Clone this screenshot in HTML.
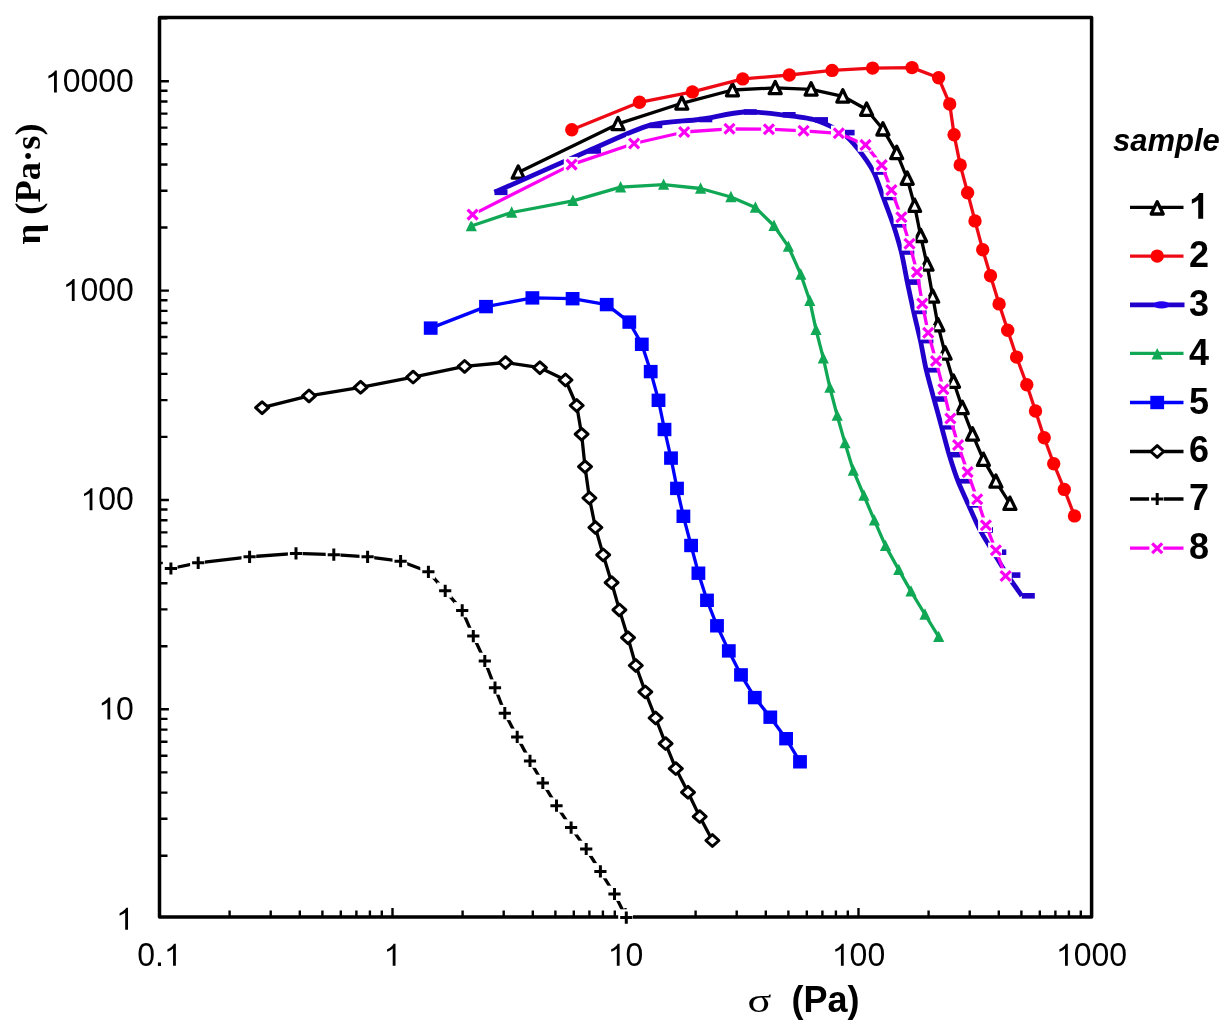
<!DOCTYPE html>
<html><head><meta charset="utf-8"><title>chart</title>
<style>
html,body{margin:0;padding:0;background:#fff}
body{width:1232px;height:1036px;position:relative;overflow:hidden;font-family:"Liberation Sans",sans-serif;color:#000}
</style></head><body>
<svg width="1232" height="1036" viewBox="0 0 1232 1036" style="position:absolute;left:0;top:0;will-change:transform" font-family="Liberation Sans, sans-serif" fill="#000">
<rect width="1232" height="1036" fill="#fff"/>
<path d="M159.5 855.7h8M159.5 818.8h8M159.5 792.6h8M159.5 772.4h8M159.5 755.8h8M159.5 741.8h8M159.5 729.6h8M159.5 718.9h8M159.5 709.3h9.4M159.5 646.3h8M159.5 609.4h8M159.5 583.3h8M159.5 563.0h8M159.5 546.4h8M159.5 532.4h8M159.5 520.2h8M159.5 509.5h8M159.5 500.0h9.4M159.5 436.9h8M159.5 400.1h8M159.5 373.9h8M159.5 353.6h8M159.5 337.0h8M159.5 323.0h8M159.5 310.9h8M159.5 300.2h8M159.5 290.6h9.4M159.5 227.5h8M159.5 190.7h8M159.5 164.5h8M159.5 144.2h8M159.5 127.6h8M159.5 113.6h8M159.5 101.5h8M159.5 90.8h8M159.5 81.2h9.4M159.5 18.2h8M159.5 917.1v-9.2M229.6 917.1v-6.6M270.7 917.1v-6.6M299.8 917.1v-6.6M322.4 917.1v-6.6M340.8 917.1v-6.6M356.4 917.1v-6.6M369.9 917.1v-6.6M381.8 917.1v-6.6M392.5 917.1v-9.2M462.6 917.1v-6.6M503.7 917.1v-6.6M532.8 917.1v-6.6M555.4 917.1v-6.6M573.8 917.1v-6.6M589.4 917.1v-6.6M602.9 917.1v-6.6M614.8 917.1v-6.6M625.5 917.1v-9.2M695.6 917.1v-6.6M736.7 917.1v-6.6M765.8 917.1v-6.6M788.4 917.1v-6.6M806.8 917.1v-6.6M822.4 917.1v-6.6M835.9 917.1v-6.6M847.8 917.1v-6.6M858.5 917.1v-9.2M928.6 917.1v-6.6M969.7 917.1v-6.6M998.8 917.1v-6.6M1021.4 917.1v-6.6M1039.8 917.1v-6.6M1055.4 917.1v-6.6M1068.9 917.1v-6.6M1080.8 917.1v-6.6M1091.5 917.1v-9.2" stroke="#000" stroke-width="2.4" fill="none"/>
<rect x="159.5" y="17.5" width="932.1" height="899.6" fill="none" stroke="#000" stroke-width="3.5" stroke-linejoin="round"/>
<path d="M518.2 172.4L618.0 123.9L681.8 103.3L732.5 90.0L775.2 87.9L811.1 89.3L842.8 96.3L866.6 109.5L882.9 129.2L896.7 152.8L907.2 178.5L914.6 205.6L920.6 235.7L927.0 264.4L932.7 296.4L937.9 325.0L945.1 353.3L953.5 381.5L962.3 407.8L972.5 434.3L983.4 459.6L995.9 481.4L1009.9 503.6" fill="none" stroke="#000" stroke-width="3.3" stroke-linejoin="round"/>
<path d="M518.2 165.9L524.2 178.2L512.2 178.2Z" fill="#fff" stroke="#000" stroke-width="3.3" stroke-linejoin="round"/>
<path d="M618.0 117.4L624.0 129.7L612.0 129.7Z" fill="#fff" stroke="#000" stroke-width="3.3" stroke-linejoin="round"/>
<path d="M681.8 96.8L687.8 109.1L675.8 109.1Z" fill="#fff" stroke="#000" stroke-width="3.3" stroke-linejoin="round"/>
<path d="M732.5 83.5L738.5 95.8L726.5 95.8Z" fill="#fff" stroke="#000" stroke-width="3.3" stroke-linejoin="round"/>
<path d="M775.2 81.4L781.2 93.7L769.2 93.7Z" fill="#fff" stroke="#000" stroke-width="3.3" stroke-linejoin="round"/>
<path d="M811.1 82.8L817.1 95.1L805.1 95.1Z" fill="#fff" stroke="#000" stroke-width="3.3" stroke-linejoin="round"/>
<path d="M842.8 89.8L848.8 102.1L836.8 102.1Z" fill="#fff" stroke="#000" stroke-width="3.3" stroke-linejoin="round"/>
<path d="M866.6 103.0L872.6 115.3L860.6 115.3Z" fill="#fff" stroke="#000" stroke-width="3.3" stroke-linejoin="round"/>
<path d="M882.9 122.7L888.9 135.0L876.9 135.0Z" fill="#fff" stroke="#000" stroke-width="3.3" stroke-linejoin="round"/>
<path d="M896.7 146.3L902.7 158.6L890.7 158.6Z" fill="#fff" stroke="#000" stroke-width="3.3" stroke-linejoin="round"/>
<path d="M907.2 172.0L913.2 184.3L901.2 184.3Z" fill="#fff" stroke="#000" stroke-width="3.3" stroke-linejoin="round"/>
<path d="M914.6 199.1L920.6 211.4L908.6 211.4Z" fill="#fff" stroke="#000" stroke-width="3.3" stroke-linejoin="round"/>
<path d="M920.6 229.2L926.6 241.5L914.6 241.5Z" fill="#fff" stroke="#000" stroke-width="3.3" stroke-linejoin="round"/>
<path d="M927.0 257.9L933.0 270.2L921.0 270.2Z" fill="#fff" stroke="#000" stroke-width="3.3" stroke-linejoin="round"/>
<path d="M932.7 289.9L938.7 302.2L926.7 302.2Z" fill="#fff" stroke="#000" stroke-width="3.3" stroke-linejoin="round"/>
<path d="M937.9 318.5L943.9 330.8L931.9 330.8Z" fill="#fff" stroke="#000" stroke-width="3.3" stroke-linejoin="round"/>
<path d="M945.1 346.8L951.1 359.1L939.1 359.1Z" fill="#fff" stroke="#000" stroke-width="3.3" stroke-linejoin="round"/>
<path d="M953.5 375.0L959.5 387.3L947.5 387.3Z" fill="#fff" stroke="#000" stroke-width="3.3" stroke-linejoin="round"/>
<path d="M962.3 401.3L968.3 413.6L956.3 413.6Z" fill="#fff" stroke="#000" stroke-width="3.3" stroke-linejoin="round"/>
<path d="M972.5 427.8L978.5 440.1L966.5 440.1Z" fill="#fff" stroke="#000" stroke-width="3.3" stroke-linejoin="round"/>
<path d="M983.4 453.1L989.4 465.4L977.4 465.4Z" fill="#fff" stroke="#000" stroke-width="3.3" stroke-linejoin="round"/>
<path d="M995.9 474.9L1001.9 487.2L989.9 487.2Z" fill="#fff" stroke="#000" stroke-width="3.3" stroke-linejoin="round"/>
<path d="M1009.9 497.1L1015.9 509.4L1003.9 509.4Z" fill="#fff" stroke="#000" stroke-width="3.3" stroke-linejoin="round"/>
<path d="M571.8 129.7L639.5 102.3L692.4 91.9L742.7 78.9L789.3 75.0L832.1 70.4L872.6 68.1L912.0 67.6L938.6 77.8L949.7 104.0L954.1 134.8L960.2 164.9L967.6 192.7L975.0 220.9L982.7 249.8L990.5 275.8L999.1 303.9L1007.7 330.2L1016.6 357.1L1026.8 384.7L1035.5 411.0L1044.2 437.7L1053.7 463.7L1064.3 489.4L1074.5 515.9" fill="none" stroke="#ee0a14" stroke-width="3.3" stroke-linejoin="round"/>
<circle cx="571.8" cy="129.7" r="6.7" fill="#ff0000"/>
<circle cx="639.5" cy="102.3" r="6.7" fill="#ff0000"/>
<circle cx="692.4" cy="91.9" r="6.7" fill="#ff0000"/>
<circle cx="742.7" cy="78.9" r="6.7" fill="#ff0000"/>
<circle cx="789.3" cy="75.0" r="6.7" fill="#ff0000"/>
<circle cx="832.1" cy="70.4" r="6.7" fill="#ff0000"/>
<circle cx="872.6" cy="68.1" r="6.7" fill="#ff0000"/>
<circle cx="912.0" cy="67.6" r="6.7" fill="#ff0000"/>
<circle cx="938.6" cy="77.8" r="6.7" fill="#ff0000"/>
<circle cx="949.7" cy="104.0" r="6.7" fill="#ff0000"/>
<circle cx="954.1" cy="134.8" r="6.7" fill="#ff0000"/>
<circle cx="960.2" cy="164.9" r="6.7" fill="#ff0000"/>
<circle cx="967.6" cy="192.7" r="6.7" fill="#ff0000"/>
<circle cx="975.0" cy="220.9" r="6.7" fill="#ff0000"/>
<circle cx="982.7" cy="249.8" r="6.7" fill="#ff0000"/>
<circle cx="990.5" cy="275.8" r="6.7" fill="#ff0000"/>
<circle cx="999.1" cy="303.9" r="6.7" fill="#ff0000"/>
<circle cx="1007.7" cy="330.2" r="6.7" fill="#ff0000"/>
<circle cx="1016.6" cy="357.1" r="6.7" fill="#ff0000"/>
<circle cx="1026.8" cy="384.7" r="6.7" fill="#ff0000"/>
<circle cx="1035.5" cy="411.0" r="6.7" fill="#ff0000"/>
<circle cx="1044.2" cy="437.7" r="6.7" fill="#ff0000"/>
<circle cx="1053.7" cy="463.7" r="6.7" fill="#ff0000"/>
<circle cx="1064.3" cy="489.4" r="6.7" fill="#ff0000"/>
<circle cx="1074.5" cy="515.9" r="6.7" fill="#ff0000"/>
<path d="M494.5 192.3C507.0 186.8 567.4 159.9 588.0 151.0C608.6 142.1 634.5 129.6 649.3 125.4C664.1 121.2 686.7 121.3 699.3 119.5C711.9 117.7 732.7 112.6 743.8 112.0C754.9 111.4 773.1 113.7 782.6 114.8C792.1 115.9 807.1 117.5 815.0 119.9C822.9 122.3 835.9 128.7 841.6 132.6C847.3 136.5 853.5 143.5 857.8 148.8C862.1 154.1 870.2 165.5 873.6 172.0C877.0 178.5 880.7 190.5 883.3 197.5C885.9 204.5 890.9 217.5 893.3 224.8C895.7 232.1 899.4 244.4 901.3 252.0C903.2 259.6 905.7 274.2 907.3 282.1C908.9 290.0 911.9 303.6 913.6 311.4C915.3 319.2 918.7 332.8 920.4 340.6C922.1 348.4 924.4 362.0 926.2 369.8C928.0 377.6 931.9 391.4 934.0 399.0C936.1 406.6 939.6 419.4 941.6 426.8C943.6 434.2 947.0 447.5 949.2 454.7C951.4 461.9 955.3 474.1 957.9 480.8C960.5 487.5 965.6 498.3 968.5 504.9C971.4 511.5 976.7 523.7 980.0 530.0C983.3 536.3 989.6 546.2 993.3 552.2C997.0 558.2 1003.6 569.3 1007.4 575.1C1011.2 580.9 1019.9 593.0 1021.8 595.8" fill="none" stroke="#2200cc" stroke-width="4.8" stroke-linejoin="round"/>
<rect x="494.5" y="189.5" width="13" height="5.6" fill="#2200cc"/>
<rect x="588.0" y="148.2" width="13" height="5.6" fill="#2200cc"/>
<rect x="649.3" y="122.6" width="13" height="5.6" fill="#2200cc"/>
<rect x="699.3" y="116.7" width="13" height="5.6" fill="#2200cc"/>
<rect x="743.8" y="109.2" width="13" height="5.6" fill="#2200cc"/>
<rect x="782.6" y="112.0" width="13" height="5.6" fill="#2200cc"/>
<rect x="815.0" y="117.1" width="13" height="5.6" fill="#2200cc"/>
<rect x="841.6" y="129.8" width="13" height="5.6" fill="#2200cc"/>
<rect x="857.8" y="146.0" width="13" height="5.6" fill="#2200cc"/>
<rect x="873.6" y="169.2" width="13" height="5.6" fill="#2200cc"/>
<rect x="883.3" y="194.7" width="13" height="5.6" fill="#2200cc"/>
<rect x="893.3" y="222.0" width="13" height="5.6" fill="#2200cc"/>
<rect x="901.3" y="249.2" width="13" height="5.6" fill="#2200cc"/>
<rect x="907.3" y="279.3" width="13" height="5.6" fill="#2200cc"/>
<rect x="913.6" y="308.6" width="13" height="5.6" fill="#2200cc"/>
<rect x="920.4" y="337.8" width="13" height="5.6" fill="#2200cc"/>
<rect x="926.2" y="367.0" width="13" height="5.6" fill="#2200cc"/>
<rect x="934.0" y="396.2" width="13" height="5.6" fill="#2200cc"/>
<rect x="941.6" y="424.0" width="13" height="5.6" fill="#2200cc"/>
<rect x="949.2" y="451.9" width="13" height="5.6" fill="#2200cc"/>
<rect x="957.9" y="478.0" width="13" height="5.6" fill="#2200cc"/>
<rect x="968.5" y="502.1" width="13" height="5.6" fill="#2200cc"/>
<rect x="980.0" y="527.2" width="13" height="5.6" fill="#2200cc"/>
<rect x="993.3" y="549.4" width="13" height="5.6" fill="#2200cc"/>
<rect x="1007.4" y="572.3" width="13" height="5.6" fill="#2200cc"/>
<rect x="1021.8" y="593.0" width="13" height="5.6" fill="#2200cc"/>
<path d="M471.3 226.0L511.7 212.5L572.9 200.8L620.6 187.2L663.6 184.6L700.6 188.5L730.9 197.0L755.4 207.5L774.0 225.8L788.4 246.6L800.8 274.5L809.8 300.7L816.0 329.7L823.3 358.2L829.9 387.6L837.2 415.6L845.0 443.1L853.3 470.5L863.9 495.5L874.4 520.4L885.5 545.9L898.8 569.9L911.0 591.4L925.0 614.5L938.7 636.9" fill="none" stroke="#10a855" stroke-width="3.3" stroke-linejoin="round"/>
<path d="M471.3 219.8L476.9 231.2L465.7 231.2Z" fill="#10a855"/>
<path d="M511.7 206.3L517.3 217.7L506.1 217.7Z" fill="#10a855"/>
<path d="M572.9 194.6L578.5 206.0L567.3 206.0Z" fill="#10a855"/>
<path d="M620.6 181.0L626.2 192.4L615.0 192.4Z" fill="#10a855"/>
<path d="M663.6 178.4L669.2 189.8L658.0 189.8Z" fill="#10a855"/>
<path d="M700.6 182.3L706.2 193.7L695.0 193.7Z" fill="#10a855"/>
<path d="M730.9 190.8L736.5 202.2L725.3 202.2Z" fill="#10a855"/>
<path d="M755.4 201.3L761.0 212.7L749.8 212.7Z" fill="#10a855"/>
<path d="M774.0 219.6L779.6 231.0L768.4 231.0Z" fill="#10a855"/>
<path d="M788.4 240.4L794.0 251.8L782.8 251.8Z" fill="#10a855"/>
<path d="M800.8 268.3L806.4 279.7L795.2 279.7Z" fill="#10a855"/>
<path d="M809.8 294.5L815.4 305.9L804.2 305.9Z" fill="#10a855"/>
<path d="M816.0 323.5L821.6 334.9L810.4 334.9Z" fill="#10a855"/>
<path d="M823.3 352.0L828.9 363.4L817.7 363.4Z" fill="#10a855"/>
<path d="M829.9 381.4L835.5 392.8L824.3 392.8Z" fill="#10a855"/>
<path d="M837.2 409.4L842.8 420.8L831.6 420.8Z" fill="#10a855"/>
<path d="M845.0 436.9L850.6 448.3L839.4 448.3Z" fill="#10a855"/>
<path d="M853.3 464.3L858.9 475.7L847.7 475.7Z" fill="#10a855"/>
<path d="M863.9 489.3L869.5 500.7L858.3 500.7Z" fill="#10a855"/>
<path d="M874.4 514.2L880.0 525.6L868.8 525.6Z" fill="#10a855"/>
<path d="M885.5 539.7L891.1 551.1L879.9 551.1Z" fill="#10a855"/>
<path d="M898.8 563.7L904.4 575.1L893.2 575.1Z" fill="#10a855"/>
<path d="M911.0 585.2L916.6 596.6L905.4 596.6Z" fill="#10a855"/>
<path d="M925.0 608.3L930.6 619.7L919.4 619.7Z" fill="#10a855"/>
<path d="M938.7 630.7L944.3 642.1L933.1 642.1Z" fill="#10a855"/>
<path d="M430.7 328.1L486.0 306.6L532.4 297.9L572.6 298.7L606.7 304.6L629.3 322.1L641.8 344.3L650.7 371.6L658.5 400.3L664.5 429.5L671.0 458.1L677.0 488.4L683.4 516.3L691.1 545.5L698.4 573.2L707.0 600.3L717.0 625.8L728.8 650.9L741.0 674.9L754.8 697.6L770.3 717.2L786.1 738.7L800.0 761.8" fill="none" stroke="#0000ff" stroke-width="3.3" stroke-linejoin="round"/>
<rect x="423.8" y="321.4" width="13.8" height="13.4" fill="#0000ff"/>
<rect x="479.1" y="299.9" width="13.8" height="13.4" fill="#0000ff"/>
<rect x="525.5" y="291.2" width="13.8" height="13.4" fill="#0000ff"/>
<rect x="565.7" y="292.0" width="13.8" height="13.4" fill="#0000ff"/>
<rect x="599.8" y="297.9" width="13.8" height="13.4" fill="#0000ff"/>
<rect x="622.4" y="315.4" width="13.8" height="13.4" fill="#0000ff"/>
<rect x="634.9" y="337.6" width="13.8" height="13.4" fill="#0000ff"/>
<rect x="643.8" y="364.9" width="13.8" height="13.4" fill="#0000ff"/>
<rect x="651.6" y="393.6" width="13.8" height="13.4" fill="#0000ff"/>
<rect x="657.6" y="422.8" width="13.8" height="13.4" fill="#0000ff"/>
<rect x="664.1" y="451.4" width="13.8" height="13.4" fill="#0000ff"/>
<rect x="670.1" y="481.7" width="13.8" height="13.4" fill="#0000ff"/>
<rect x="676.5" y="509.6" width="13.8" height="13.4" fill="#0000ff"/>
<rect x="684.2" y="538.8" width="13.8" height="13.4" fill="#0000ff"/>
<rect x="691.5" y="566.5" width="13.8" height="13.4" fill="#0000ff"/>
<rect x="700.1" y="593.6" width="13.8" height="13.4" fill="#0000ff"/>
<rect x="710.1" y="619.1" width="13.8" height="13.4" fill="#0000ff"/>
<rect x="721.9" y="644.2" width="13.8" height="13.4" fill="#0000ff"/>
<rect x="734.1" y="668.2" width="13.8" height="13.4" fill="#0000ff"/>
<rect x="747.9" y="690.9" width="13.8" height="13.4" fill="#0000ff"/>
<rect x="763.4" y="710.5" width="13.8" height="13.4" fill="#0000ff"/>
<rect x="779.2" y="732.0" width="13.8" height="13.4" fill="#0000ff"/>
<rect x="793.1" y="755.1" width="13.8" height="13.4" fill="#0000ff"/>
<path d="M262.1 407.7L309.0 395.9L360.6 387.3L413.1 377.1L464.6 366.4L505.5 362.5L539.9 367.7L565.5 380.0L576.7 405.5L581.6 434.2L585.0 466.7L589.4 498.0L595.4 527.5L603.2 554.9L611.6 582.6L619.4 609.9L628.0 637.7L635.8 665.5L645.3 691.9L655.6 718.0L665.6 743.6L675.8 768.6L688.0 792.3L699.7 816.6L712.4 840.5" fill="none" stroke="#000" stroke-width="3.3" stroke-linejoin="round"/>
<path d="M262.1 401.8L268.6 407.7L262.1 413.6L255.6 407.7Z" fill="#fff" stroke="#000" stroke-width="3" stroke-linejoin="round"/>
<path d="M309.0 390.0L315.5 395.9L309.0 401.8L302.5 395.9Z" fill="#fff" stroke="#000" stroke-width="3" stroke-linejoin="round"/>
<path d="M360.6 381.4L367.1 387.3L360.6 393.2L354.1 387.3Z" fill="#fff" stroke="#000" stroke-width="3" stroke-linejoin="round"/>
<path d="M413.1 371.2L419.6 377.1L413.1 383.0L406.6 377.1Z" fill="#fff" stroke="#000" stroke-width="3" stroke-linejoin="round"/>
<path d="M464.6 360.5L471.1 366.4L464.6 372.3L458.1 366.4Z" fill="#fff" stroke="#000" stroke-width="3" stroke-linejoin="round"/>
<path d="M505.5 356.6L512.0 362.5L505.5 368.4L499.0 362.5Z" fill="#fff" stroke="#000" stroke-width="3" stroke-linejoin="round"/>
<path d="M539.9 361.8L546.4 367.7L539.9 373.6L533.4 367.7Z" fill="#fff" stroke="#000" stroke-width="3" stroke-linejoin="round"/>
<path d="M565.5 374.1L572.0 380.0L565.5 385.9L559.0 380.0Z" fill="#fff" stroke="#000" stroke-width="3" stroke-linejoin="round"/>
<path d="M576.7 399.6L583.2 405.5L576.7 411.4L570.2 405.5Z" fill="#fff" stroke="#000" stroke-width="3" stroke-linejoin="round"/>
<path d="M581.6 428.3L588.1 434.2L581.6 440.1L575.1 434.2Z" fill="#fff" stroke="#000" stroke-width="3" stroke-linejoin="round"/>
<path d="M585.0 460.8L591.5 466.7L585.0 472.6L578.5 466.7Z" fill="#fff" stroke="#000" stroke-width="3" stroke-linejoin="round"/>
<path d="M589.4 492.1L595.9 498.0L589.4 503.9L582.9 498.0Z" fill="#fff" stroke="#000" stroke-width="3" stroke-linejoin="round"/>
<path d="M595.4 521.6L601.9 527.5L595.4 533.4L588.9 527.5Z" fill="#fff" stroke="#000" stroke-width="3" stroke-linejoin="round"/>
<path d="M603.2 549.0L609.7 554.9L603.2 560.8L596.7 554.9Z" fill="#fff" stroke="#000" stroke-width="3" stroke-linejoin="round"/>
<path d="M611.6 576.7L618.1 582.6L611.6 588.5L605.1 582.6Z" fill="#fff" stroke="#000" stroke-width="3" stroke-linejoin="round"/>
<path d="M619.4 604.0L625.9 609.9L619.4 615.8L612.9 609.9Z" fill="#fff" stroke="#000" stroke-width="3" stroke-linejoin="round"/>
<path d="M628.0 631.8L634.5 637.7L628.0 643.6L621.5 637.7Z" fill="#fff" stroke="#000" stroke-width="3" stroke-linejoin="round"/>
<path d="M635.8 659.6L642.3 665.5L635.8 671.4L629.3 665.5Z" fill="#fff" stroke="#000" stroke-width="3" stroke-linejoin="round"/>
<path d="M645.3 686.0L651.8 691.9L645.3 697.8L638.8 691.9Z" fill="#fff" stroke="#000" stroke-width="3" stroke-linejoin="round"/>
<path d="M655.6 712.1L662.1 718.0L655.6 723.9L649.1 718.0Z" fill="#fff" stroke="#000" stroke-width="3" stroke-linejoin="round"/>
<path d="M665.6 737.7L672.1 743.6L665.6 749.5L659.1 743.6Z" fill="#fff" stroke="#000" stroke-width="3" stroke-linejoin="round"/>
<path d="M675.8 762.7L682.3 768.6L675.8 774.5L669.3 768.6Z" fill="#fff" stroke="#000" stroke-width="3" stroke-linejoin="round"/>
<path d="M688.0 786.4L694.5 792.3L688.0 798.2L681.5 792.3Z" fill="#fff" stroke="#000" stroke-width="3" stroke-linejoin="round"/>
<path d="M699.7 810.7L706.2 816.6L699.7 822.5L693.2 816.6Z" fill="#fff" stroke="#000" stroke-width="3" stroke-linejoin="round"/>
<path d="M712.4 834.6L718.9 840.5L712.4 846.4L705.9 840.5Z" fill="#fff" stroke="#000" stroke-width="3" stroke-linejoin="round"/>
<path d="M170.9 568.5L198.2 562.8L249.6 556.8L296.0 553.4L333.8 554.7L367.6 556.8L400.6 561.2L428.4 571.8L445.2 590.8L462.2 610.4L473.3 636.1L484.8 661.0L495.0 687.7L504.8 713.2L517.2 736.9L530.0 760.9L542.8 783.0L556.5 805.7L571.1 827.6L586.2 849.0L600.4 871.4L614.5 894.0L626.3 917.6" fill="none" stroke="#000" stroke-width="3.3" stroke-linejoin="round"/>
<rect x="162.8" y="560.2" width="14.7" height="15.2" fill="#fff"/><path d="M164.8 568.5H177.0M170.9 562.4V574.6" stroke="#000" stroke-width="3" fill="none"/>
<rect x="190.1" y="554.5" width="14.7" height="15.2" fill="#fff"/><path d="M192.1 562.8H204.3M198.2 556.7V568.9" stroke="#000" stroke-width="3" fill="none"/>
<rect x="241.5" y="548.5" width="14.7" height="15.2" fill="#fff"/><path d="M243.5 556.8H255.7M249.6 550.7V562.9" stroke="#000" stroke-width="3" fill="none"/>
<rect x="287.9" y="545.1" width="14.7" height="15.2" fill="#fff"/><path d="M289.9 553.4H302.1M296.0 547.3V559.5" stroke="#000" stroke-width="3" fill="none"/>
<rect x="325.7" y="546.4" width="14.7" height="15.2" fill="#fff"/><path d="M327.7 554.7H339.9M333.8 548.6V560.8" stroke="#000" stroke-width="3" fill="none"/>
<rect x="359.5" y="548.5" width="14.7" height="15.2" fill="#fff"/><path d="M361.5 556.8H373.7M367.6 550.7V562.9" stroke="#000" stroke-width="3" fill="none"/>
<rect x="392.5" y="552.9" width="14.7" height="15.2" fill="#fff"/><path d="M394.5 561.2H406.7M400.6 555.1V567.3" stroke="#000" stroke-width="3" fill="none"/>
<rect x="420.3" y="563.5" width="14.7" height="15.2" fill="#fff"/><path d="M422.3 571.8H434.5M428.4 565.7V577.9" stroke="#000" stroke-width="3" fill="none"/>
<rect x="437.1" y="582.5" width="14.7" height="15.2" fill="#fff"/><path d="M439.1 590.8H451.3M445.2 584.7V596.9" stroke="#000" stroke-width="3" fill="none"/>
<rect x="454.1" y="602.1" width="14.7" height="15.2" fill="#fff"/><path d="M456.1 610.4H468.3M462.2 604.3V616.5" stroke="#000" stroke-width="3" fill="none"/>
<rect x="465.2" y="627.8" width="14.7" height="15.2" fill="#fff"/><path d="M467.2 636.1H479.4M473.3 630.0V642.2" stroke="#000" stroke-width="3" fill="none"/>
<rect x="476.7" y="652.7" width="14.7" height="15.2" fill="#fff"/><path d="M478.7 661.0H490.9M484.8 654.9V667.1" stroke="#000" stroke-width="3" fill="none"/>
<rect x="486.9" y="679.4" width="14.7" height="15.2" fill="#fff"/><path d="M488.9 687.7H501.1M495.0 681.6V693.8" stroke="#000" stroke-width="3" fill="none"/>
<rect x="496.7" y="704.9" width="14.7" height="15.2" fill="#fff"/><path d="M498.7 713.2H510.9M504.8 707.1V719.3" stroke="#000" stroke-width="3" fill="none"/>
<rect x="509.1" y="728.6" width="14.7" height="15.2" fill="#fff"/><path d="M511.1 736.9H523.3M517.2 730.8V743.0" stroke="#000" stroke-width="3" fill="none"/>
<rect x="521.9" y="752.6" width="14.7" height="15.2" fill="#fff"/><path d="M523.9 760.9H536.1M530.0 754.8V767.0" stroke="#000" stroke-width="3" fill="none"/>
<rect x="534.7" y="774.7" width="14.7" height="15.2" fill="#fff"/><path d="M536.7 783.0H548.9M542.8 776.9V789.1" stroke="#000" stroke-width="3" fill="none"/>
<rect x="548.4" y="797.4" width="14.7" height="15.2" fill="#fff"/><path d="M550.4 805.7H562.6M556.5 799.6V811.8" stroke="#000" stroke-width="3" fill="none"/>
<rect x="563.0" y="819.3" width="14.7" height="15.2" fill="#fff"/><path d="M565.0 827.6H577.2M571.1 821.5V833.7" stroke="#000" stroke-width="3" fill="none"/>
<rect x="578.1" y="840.7" width="14.7" height="15.2" fill="#fff"/><path d="M580.1 849.0H592.3M586.2 842.9V855.1" stroke="#000" stroke-width="3" fill="none"/>
<rect x="592.3" y="863.1" width="14.7" height="15.2" fill="#fff"/><path d="M594.3 871.4H606.5M600.4 865.3V877.5" stroke="#000" stroke-width="3" fill="none"/>
<rect x="606.4" y="885.7" width="14.7" height="15.2" fill="#fff"/><path d="M608.4 894.0H620.6M614.5 887.9V900.1" stroke="#000" stroke-width="3" fill="none"/>
<rect x="618.2" y="909.3" width="14.7" height="15.2" fill="#fff"/><path d="M620.2 917.6H632.4M626.3 911.5V923.7" stroke="#000" stroke-width="3" fill="none"/>
<path d="M472.6 214.6L571.6 164.6L634.1 143.5L684.2 132.0L729.5 128.8L768.9 129.2L803.6 130.8L838.8 133.3L865.5 144.9L881.7 165.1L891.4 190.1L901.4 217.2L909.5 243.8L917.0 272.1L922.3 303.6L928.2 332.8L936.0 361.0L943.4 389.3L950.4 418.5L958.1 445.0L967.6 472.1L977.2 499.2L985.9 525.2L995.9 550.3L1005.6 576.0" fill="none" stroke="#fa00f4" stroke-width="3.3" stroke-linejoin="round"/>
<rect x="464.8" y="206.9" width="13.9" height="14.5" fill="#fff"/><path d="M467.6 209.7L477.6 219.5M467.6 219.5L477.6 209.7" stroke="#fa00f4" stroke-width="3.2" fill="none"/>
<rect x="563.8" y="156.9" width="13.9" height="14.5" fill="#fff"/><path d="M566.6 159.7L576.6 169.5M566.6 169.5L576.6 159.7" stroke="#fa00f4" stroke-width="3.2" fill="none"/>
<rect x="626.3" y="135.8" width="13.9" height="14.5" fill="#fff"/><path d="M629.1 138.6L639.1 148.4M629.1 148.4L639.1 138.6" stroke="#fa00f4" stroke-width="3.2" fill="none"/>
<rect x="676.4" y="124.3" width="13.9" height="14.5" fill="#fff"/><path d="M679.2 127.1L689.2 136.9M679.2 136.9L689.2 127.1" stroke="#fa00f4" stroke-width="3.2" fill="none"/>
<rect x="721.7" y="121.1" width="13.9" height="14.5" fill="#fff"/><path d="M724.5 123.9L734.5 133.7M724.5 133.7L734.5 123.9" stroke="#fa00f4" stroke-width="3.2" fill="none"/>
<rect x="761.1" y="121.5" width="13.9" height="14.5" fill="#fff"/><path d="M763.9 124.3L773.9 134.1M763.9 134.1L773.9 124.3" stroke="#fa00f4" stroke-width="3.2" fill="none"/>
<rect x="795.8" y="123.1" width="13.9" height="14.5" fill="#fff"/><path d="M798.6 125.9L808.6 135.7M798.6 135.7L808.6 125.9" stroke="#fa00f4" stroke-width="3.2" fill="none"/>
<rect x="831.0" y="125.6" width="13.9" height="14.5" fill="#fff"/><path d="M833.8 128.4L843.8 138.2M833.8 138.2L843.8 128.4" stroke="#fa00f4" stroke-width="3.2" fill="none"/>
<rect x="857.7" y="137.2" width="13.9" height="14.5" fill="#fff"/><path d="M860.5 140.0L870.5 149.8M860.5 149.8L870.5 140.0" stroke="#fa00f4" stroke-width="3.2" fill="none"/>
<rect x="873.9" y="157.4" width="13.9" height="14.5" fill="#fff"/><path d="M876.7 160.2L886.7 170.0M876.7 170.0L886.7 160.2" stroke="#fa00f4" stroke-width="3.2" fill="none"/>
<rect x="883.6" y="182.4" width="13.9" height="14.5" fill="#fff"/><path d="M886.4 185.2L896.4 195.0M886.4 195.0L896.4 185.2" stroke="#fa00f4" stroke-width="3.2" fill="none"/>
<rect x="893.6" y="209.5" width="13.9" height="14.5" fill="#fff"/><path d="M896.4 212.3L906.4 222.1M896.4 222.1L906.4 212.3" stroke="#fa00f4" stroke-width="3.2" fill="none"/>
<rect x="901.7" y="236.1" width="13.9" height="14.5" fill="#fff"/><path d="M904.5 238.9L914.5 248.7M904.5 248.7L914.5 238.9" stroke="#fa00f4" stroke-width="3.2" fill="none"/>
<rect x="909.2" y="264.4" width="13.9" height="14.5" fill="#fff"/><path d="M912.0 267.2L922.0 277.0M912.0 277.0L922.0 267.2" stroke="#fa00f4" stroke-width="3.2" fill="none"/>
<rect x="914.5" y="295.9" width="13.9" height="14.5" fill="#fff"/><path d="M917.3 298.7L927.3 308.5M917.3 308.5L927.3 298.7" stroke="#fa00f4" stroke-width="3.2" fill="none"/>
<rect x="920.4" y="325.1" width="13.9" height="14.5" fill="#fff"/><path d="M923.2 327.9L933.2 337.7M923.2 337.7L933.2 327.9" stroke="#fa00f4" stroke-width="3.2" fill="none"/>
<rect x="928.2" y="353.3" width="13.9" height="14.5" fill="#fff"/><path d="M931.0 356.1L941.0 365.9M931.0 365.9L941.0 356.1" stroke="#fa00f4" stroke-width="3.2" fill="none"/>
<rect x="935.6" y="381.6" width="13.9" height="14.5" fill="#fff"/><path d="M938.4 384.4L948.4 394.2M938.4 394.2L948.4 384.4" stroke="#fa00f4" stroke-width="3.2" fill="none"/>
<rect x="942.6" y="410.8" width="13.9" height="14.5" fill="#fff"/><path d="M945.4 413.6L955.4 423.4M945.4 423.4L955.4 413.6" stroke="#fa00f4" stroke-width="3.2" fill="none"/>
<rect x="950.3" y="437.3" width="13.9" height="14.5" fill="#fff"/><path d="M953.1 440.1L963.1 449.9M953.1 449.9L963.1 440.1" stroke="#fa00f4" stroke-width="3.2" fill="none"/>
<rect x="959.8" y="464.4" width="13.9" height="14.5" fill="#fff"/><path d="M962.6 467.2L972.6 477.0M962.6 477.0L972.6 467.2" stroke="#fa00f4" stroke-width="3.2" fill="none"/>
<rect x="969.4" y="491.5" width="13.9" height="14.5" fill="#fff"/><path d="M972.2 494.3L982.2 504.1M972.2 504.1L982.2 494.3" stroke="#fa00f4" stroke-width="3.2" fill="none"/>
<rect x="978.1" y="517.5" width="13.9" height="14.5" fill="#fff"/><path d="M980.9 520.3L990.9 530.1M980.9 530.1L990.9 520.3" stroke="#fa00f4" stroke-width="3.2" fill="none"/>
<rect x="988.1" y="542.6" width="13.9" height="14.5" fill="#fff"/><path d="M990.9 545.4L1000.9 555.2M990.9 555.2L1000.9 545.4" stroke="#fa00f4" stroke-width="3.2" fill="none"/>
<rect x="997.8" y="568.3" width="13.9" height="14.5" fill="#fff"/><path d="M1000.6 571.1L1010.6 580.9M1000.6 580.9L1010.6 571.1" stroke="#fa00f4" stroke-width="3.2" fill="none"/>
<path d="M1130 207.3H1183.5" stroke="#000" stroke-width="3.3" fill="none"/>
<path d="M1157.2 201.7L1163.2 214.0L1151.2 214.0Z" fill="#fff" stroke="#000" stroke-width="3.3" stroke-linejoin="round"/>
<path transform="translate(1189.00 218.70) scale(0.01758 -0.01758)" d="M806 0H525V1059Q371 915 162 846V1101Q272 1137 401 1237Q530 1338 578 1466H806Z"/>
<path d="M1130 256.1H1183.5" stroke="#ee0a14" stroke-width="3.3" fill="none"/>
<circle cx="1157.2" cy="256.1" r="6.7" fill="#ff0000"/>
<text transform="translate(1189.00 267.40) scale(1 1.04)" font-size="36" font-weight="bold">2</text>
<path d="M1130 304.9H1184.5" stroke="#2200cc" stroke-width="4.8" fill="none"/>
<ellipse cx="1161.5" cy="304.9" rx="8" ry="3.7" fill="#2400f0"/>
<text transform="translate(1189.00 315.80) scale(1 1.04)" font-size="36" font-weight="bold">3</text>
<path d="M1130 353.4H1183.5" stroke="#10a855" stroke-width="3.3" fill="none"/>
<path d="M1157.2 348.1L1162.8 359.5L1151.6 359.5Z" fill="#10a855"/>
<text transform="translate(1189.00 364.80) scale(1 1.04)" font-size="36" font-weight="bold">4</text>
<path d="M1130 402.5H1183.5" stroke="#0000ff" stroke-width="3.3" fill="none"/>
<rect x="1150.3" y="395.8" width="13.8" height="13.4" fill="#0000ff"/>
<text transform="translate(1189.00 413.80) scale(1 1.04)" font-size="36" font-weight="bold">5</text>
<path d="M1130 451.5H1183.5" stroke="#000" stroke-width="3.3" fill="none"/>
<path d="M1157.2 445.6L1163.7 451.5L1157.2 457.4L1150.7 451.5Z" fill="#fff" stroke="#000" stroke-width="3" stroke-linejoin="round"/>
<text transform="translate(1189.00 461.60) scale(1 1.04)" font-size="36" font-weight="bold">6</text>
<path d="M1130 499.0H1183.5" stroke="#000" stroke-width="3.3" fill="none"/>
<rect x="1149.1" y="490.7" width="14.7" height="15.2" fill="#fff"/><path d="M1151.1 499.0H1163.3M1157.2 492.9V505.1" stroke="#000" stroke-width="3" fill="none"/>
<text transform="translate(1189.00 510.40) scale(1 1.04)" font-size="36" font-weight="bold">7</text>
<path d="M1130 548.2H1183.5" stroke="#fa00f4" stroke-width="3.3" fill="none"/>
<rect x="1149.4" y="540.5" width="13.9" height="14.5" fill="#fff"/><path d="M1152.2 543.3L1162.2 553.1M1152.2 553.1L1162.2 543.3" stroke="#fa00f4" stroke-width="3.2" fill="none"/>
<text transform="translate(1189.00 559.20) scale(1 1.04)" font-size="36" font-weight="bold">8</text>
<path transform="translate(44.92 92.40) scale(0.01562 -0.01562)" d="M763 0H583V1102Q518 1043 412 983Q307 924 223 894V1061Q374 1129 487 1226Q600 1323 647 1409H763Z"/><text transform="translate(62.71 92.40) scale(1 1.01)" font-size="32">0</text><text transform="translate(80.51 92.40) scale(1 1.01)" font-size="32">0</text><text transform="translate(98.31 92.40) scale(1 1.01)" font-size="32">0</text><text transform="translate(116.10 92.40) scale(1 1.01)" font-size="32">0</text>
<path transform="translate(62.71 301.00) scale(0.01562 -0.01562)" d="M763 0H583V1102Q518 1043 412 983Q307 924 223 894V1061Q374 1129 487 1226Q600 1323 647 1409H763Z"/><text transform="translate(80.51 301.00) scale(1 1.01)" font-size="32">0</text><text transform="translate(98.31 301.00) scale(1 1.01)" font-size="32">0</text><text transform="translate(116.10 301.00) scale(1 1.01)" font-size="32">0</text>
<path transform="translate(80.51 510.20) scale(0.01562 -0.01562)" d="M763 0H583V1102Q518 1043 412 983Q307 924 223 894V1061Q374 1129 487 1226Q600 1323 647 1409H763Z"/><text transform="translate(98.31 510.20) scale(1 1.01)" font-size="32">0</text><text transform="translate(116.10 510.20) scale(1 1.01)" font-size="32">0</text>
<path transform="translate(98.31 719.50) scale(0.01562 -0.01562)" d="M763 0H583V1102Q518 1043 412 983Q307 924 223 894V1061Q374 1129 487 1226Q600 1323 647 1409H763Z"/><text transform="translate(116.10 719.50) scale(1 1.01)" font-size="32">0</text>
<path transform="translate(116.10 929.70) scale(0.01562 -0.01562)" d="M763 0H583V1102Q518 1043 412 983Q307 924 223 894V1061Q374 1129 487 1226Q600 1323 647 1409H763Z"/>
<text transform="translate(137.26 965.80) scale(1 1.01)" font-size="32">0</text><text transform="translate(155.05 965.80) scale(1 1.01)" font-size="32">.</text><path transform="translate(163.95 965.80) scale(0.01562 -0.01562)" d="M763 0H583V1102Q518 1043 412 983Q307 924 223 894V1061Q374 1129 487 1226Q600 1323 647 1409H763Z"/>
<path transform="translate(383.60 965.80) scale(0.01562 -0.01562)" d="M763 0H583V1102Q518 1043 412 983Q307 924 223 894V1061Q374 1129 487 1226Q600 1323 647 1409H763Z"/>
<path transform="translate(607.70 965.80) scale(0.01562 -0.01562)" d="M763 0H583V1102Q518 1043 412 983Q307 924 223 894V1061Q374 1129 487 1226Q600 1323 647 1409H763Z"/><text transform="translate(625.50 965.80) scale(1 1.01)" font-size="32">0</text>
<path transform="translate(831.80 965.80) scale(0.01562 -0.01562)" d="M763 0H583V1102Q518 1043 412 983Q307 924 223 894V1061Q374 1129 487 1226Q600 1323 647 1409H763Z"/><text transform="translate(849.60 965.80) scale(1 1.01)" font-size="32">0</text><text transform="translate(867.40 965.80) scale(1 1.01)" font-size="32">0</text>
<path transform="translate(1055.91 965.80) scale(0.01562 -0.01562)" d="M763 0H583V1102Q518 1043 412 983Q307 924 223 894V1061Q374 1129 487 1226Q600 1323 647 1409H763Z"/><text transform="translate(1073.70 965.80) scale(1 1.01)" font-size="32">0</text><text transform="translate(1091.50 965.80) scale(1 1.01)" font-size="32">0</text><text transform="translate(1109.30 965.80) scale(1 1.01)" font-size="32">0</text>
<text x="1113" y="150.8" font-size="31" font-weight="bold" font-style="italic">sample</text>
<text x="791.4" y="1011.8" font-size="36" font-weight="bold">(Pa)</text>
<text transform="translate(747.4 1011.8) scale(1.17 0.88)" x="0" y="0" font-size="38" font-family="Liberation Serif, serif">&#963;</text>
<text transform="translate(39.5 244.5) rotate(-90)" x="0" y="0" font-size="36.5" font-weight="bold" font-family="Liberation Serif, serif">&#951; (Pa&#183;s)</text>
</svg>
</body></html>
